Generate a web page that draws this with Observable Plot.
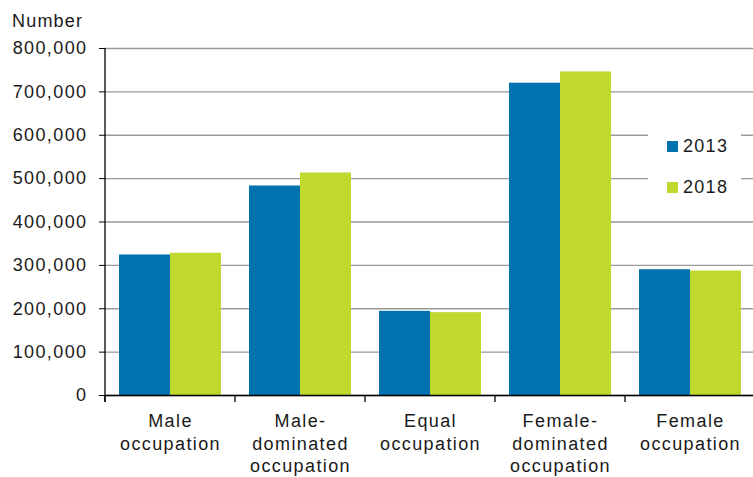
<!DOCTYPE html>
<html>
<head>
<meta charset="utf-8">
<script src="https://cdn.jsdelivr.net/npm/d3@7"></script>
<script src="https://cdn.jsdelivr.net/npm/@observablehq/plot@0.6"></script>
<style>
  html, body { margin: 0; padding: 0; background: #fff; }
  #wrap { position: relative; width: 753px; height: 477px; overflow: hidden; font-family: "Liberation Sans", Arial, sans-serif; }
  #ylabel { position: absolute; left: 12px; top: 11px; font-size: 18px; letter-spacing: 1.2px; color: #1a1a1a; }
  #legend { position: absolute; left: 648px; top: 120px; width: 93px; height: 90px; background: #fff; }
  .item { position: absolute; left: 19px; height: 22px; display: flex; align-items: center; font-size: 18px; letter-spacing: 1.3px; color: #1a1a1a; }
  .sw { width: 11px; height: 11px; margin-right: 5px; }
</style>
</head>
<body>
<div id="wrap">
  <div id="chart"></div>
  <div id="ylabel">Number</div>
  <div id="legend"></div>
</div>
<script>
const categories = ["Male occupation", "Male-dominated occupation", "Equal occupation", "Female-dominated occupation", "Female occupation"];
const categoryLabels = ["Male\noccupation", "Male-\ndominated\noccupation", "Equal\noccupation", "Female-\ndominated\noccupation", "Female\noccupation"];
const years = ["2013", "2018"];
const values2013 = [324000, 483000, 194000, 720000, 290000];
const values2018 = [328000, 513000, 191000, 746000, 287000];
const yTicks = [0, 100000, 200000, 300000, 400000, 500000, 600000, 700000, 800000];
const colors = ["#0072b0", "#c1d82f"];

const data = [];
categories.forEach((c, i) => {
  data.push({category: c, year: years[0], value: values2013[i]});
  data.push({category: c, year: years[1], value: values2018[i]});
});
const labelOf = new Map(categories.map((c, i) => [c, categoryLabels[i]]));

const plot = Plot.plot({
  width: 753,
  height: 477,
  marginTop: 48,
  marginBottom: 82,
  marginLeft: 105,
  marginRight: -2,
  style: {fontFamily: "Liberation Sans, Arial, sans-serif", fontSize: "18px", letterSpacing: "1.4px", color: "#1a1a1a", background: "#fff", overflow: "hidden"},
  fx: {domain: categories, padding: 0},
  x: {domain: years, paddingInner: 0, paddingOuter: 0.262, axis: null},
  y: {domain: [0, 800000]},
  color: {domain: years, range: colors},
  marks: [
    Plot.ruleY(yTicks, {stroke: "#999", strokeWidth: 1.3}),
    Plot.barY(data, {fx: "category", x: "year", y: "value", fill: "year"}),
    Plot.ruleY([0], {stroke: "#000", strokeWidth: 1.3}),
    Plot.axisY({ticks: yTicks, tickFormat: d3.format(","), tickSize: 6, tickPadding: 12, label: null, stroke: "#000", fill: "#1a1a1a"}),
    Plot.axisFx({anchor: "bottom", tickSize: 0, tickPadding: 16, lineHeight: 1.25, tickFormat: d => labelOf.get(d), label: null, fill: "#1a1a1a", letterSpacing: "1.2px"})
  ]
});
document.getElementById("chart").appendChild(plot);

// axis lines and category boundary ticks, positioned with the plot's own scales
const fx = plot.scale("fx");
const y = plot.scale("y");
const svg = d3.select(plot);
const g = svg.append("g").attr("stroke", "#000").attr("stroke-width", 1.3);
const y0 = y.apply(0);
const xLeft = fx.apply(categories[0]);
g.append("line").attr("x1", xLeft).attr("x2", xLeft).attr("y1", y.apply(800000)).attr("y2", y0 + 7);
categories.forEach(c => {
  const xb = fx.apply(c);
  g.append("line").attr("x1", xb).attr("x2", xb).attr("y1", y0).attr("y2", y0 + 7);
});

// legend
const legend = document.getElementById("legend");
years.forEach((yr, i) => {
  const it = document.createElement("div");
  it.className = "item";
  it.style.top = (i === 0 ? 15 : 56) + "px";
  it.innerHTML = `<span class="sw" style="background:${colors[i]}"></span><span>${yr}</span>`;
  legend.appendChild(it);
});
</script>
</body>
</html>
